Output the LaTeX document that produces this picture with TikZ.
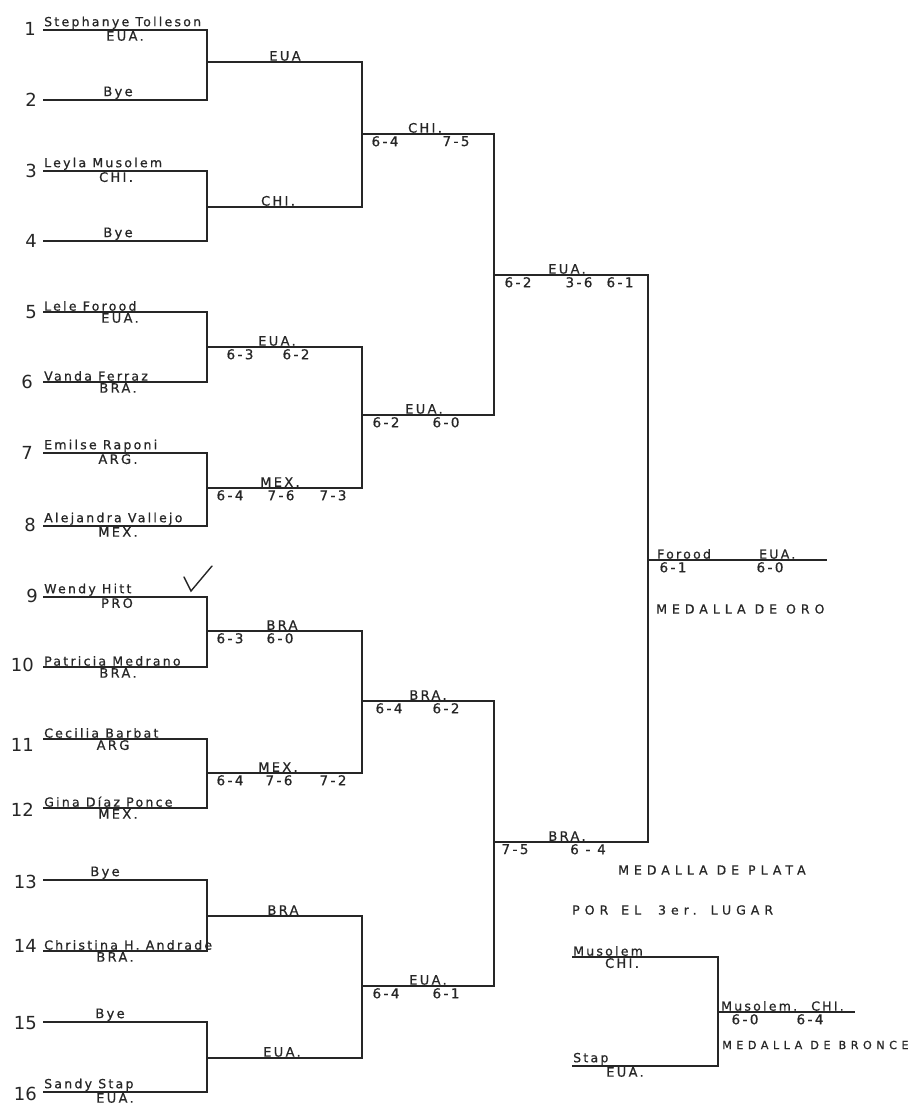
\documentclass[tikz,border=0pt]{standalone}
\usepackage{fontspec}
\setmainfont{DejaVu Sans}
\newfontfamily\handfont{DejaVu Sans}[LetterSpace=18,FakeBold=0.8]
\newfontfamily\medalfont{DejaVu Sans}[LetterSpace=40,FakeBold=0.8]
\usepackage{tikz}
\definecolor{DrawInk}{HTML}{262626}

\begin{document}
\begin{tikzpicture}[x=1pt,y=-1pt,
  bline/.style={DrawInk,line width=1.6pt},
  seed/.style={DrawInk,anchor=east,inner sep=0pt,font=\fontsize{18}{18}\selectfont},
  player/.style={DrawInk,anchor=south west,inner sep=1pt,font=\handfont\fontsize{12.5}{13}\selectfont},
  country/.style={DrawInk,anchor=north,inner sep=1pt,font=\handfont\fontsize{13}{13}\selectfont},
  winner/.style={DrawInk,anchor=south,inner sep=1pt,font=\handfont\fontsize{13}{13}\selectfont},
  score/.style={DrawInk,anchor=north,inner sep=2pt,font=\handfont\fontsize{13.5}{14}\selectfont},
  medal/.style={DrawInk,anchor=west,inner sep=0pt,font=\medalfont\fontsize{12.5}{13}\selectfont}]
\path[use as bounding box] (0,0) rectangle (913,1110);

% slots of the first round
\coordinate (p1) at (43,30);    \coordinate (p2) at (43,100);
\coordinate (p3) at (43,171);   \coordinate (p4) at (43,241);
\coordinate (p5) at (43,312);   \coordinate (p6) at (43,382);
\coordinate (p7) at (43,453);   \coordinate (p8) at (43,526);
\coordinate (p9) at (43,597);   \coordinate (p10) at (43,667);
\coordinate (p11) at (43,739);  \coordinate (p12) at (43,808);
\coordinate (p13) at (43,880);  \coordinate (p14) at (43,951);
\coordinate (p15) at (43,1022); \coordinate (p16) at (43,1092);
% winners of each round
\coordinate (m1) at (207,62);   \coordinate (m2) at (207,207);
\coordinate (m3) at (207,347);  \coordinate (m4) at (207,488);
\coordinate (m5) at (207,631);  \coordinate (m6) at (207,773);
\coordinate (m7) at (207,916);  \coordinate (m8) at (207,1058);
\coordinate (n1) at (362,134);  \coordinate (n2) at (362,415);
\coordinate (n3) at (362,701);  \coordinate (n4) at (362,986);
\coordinate (s1) at (494,275);  \coordinate (s2) at (494,842);
\coordinate (c) at (648,560);   \coordinate (ce) at (827,560);
% third place match
\coordinate (b1) at (572,957);  \coordinate (b2) at (572,1066);
\coordinate (bm) at (718,1012); \coordinate (be) at (855,1012);

% bracket lines
\draw[bline] (p1) -| (m1) |- (p2);
\draw[bline] (p3) -| (m2) |- (p4);
\draw[bline] (p5) -| (m3) |- (p6);
\draw[bline] (p7) -| (m4) |- (p8);
\draw[bline] (p9) -| (m5) |- (p10);
\draw[bline] (p11) -| (m6) |- (p12);
\draw[bline] (p13) -| (m7) |- (p14);
\draw[bline] (p15) -| (m8) |- (p16);
\draw[bline] (m1) -| (n1) |- (m2);
\draw[bline] (m3) -| (n2) |- (m4);
\draw[bline] (m5) -| (n3) |- (m6);
\draw[bline] (m7) -| (n4) |- (m8);
\draw[bline] (n1) -| (s1) |- (n2);
\draw[bline] (n3) -| (s2) |- (n4);
\draw[bline] (s1) -| (c) |- (s2);
\draw[bline] (c) -- (ce);
\draw[bline] (b1) -| (bm) |- (b2);
\draw[bline] (bm) -- (be);

% seeds
\node[seed] (sd1) at (36,29) {1};    \node[seed] (sd2) at (37,100) {2};
\node[seed] (sd3) at (37,171) {3};   \node[seed] (sd4) at (37,241) {4};
\node[seed] (sd5) at (37,312) {5};   \node[seed] (sd6) at (33,382) {6};
\node[seed] (sd7) at (33,453) {7};   \node[seed] (sd8) at (36,525) {8};
\node[seed] (sd9) at (38,596) {9};   \node[seed] (sd10) at (34,665) {10};
\node[seed] (sd11) at (34,745) {11}; \node[seed] (sd12) at (34,810) {12};
\node[seed] (sd13) at (37,882) {13}; \node[seed] (sd14) at (37,946) {14};
\node[seed] (sd15) at (37,1023) {15};\node[seed] (sd16) at (37,1094) {16};

% players
\node[player] (pl1) at (p1) {Stephanye Tolleson};
\node[country] (ct1) at (125,30) {EUA.};
\node[winner] (pl2) at (118,100) {Bye};
\node[player] (pl3) at (p3) {Leyla Musolem};
\node[country] (ct3) at (116,171) {CHI.};
\node[winner] (pl4) at (118,241) {Bye};
\node[player] (pl5) at (p5) {Lele Forood};
\node[country] (ct5) at (120,312) {EUA.};
\node[player] (pl6) at (p6) {Vanda Ferraz};
\node[country] (ct6) at (118,382) {BRA.};
\node[player] (pl7) at (p7) {Emilse Raponi};
\node[country] (ct7) at (118,453) {ARG.};
\node[player] (pl8) at (p8) {Alejandra Vallejo};
\node[country] (ct8) at (118,526) {MEX.};
\node[player] (pl9) at (p9) {Wendy Hitt};
\node[country] (ct9) at (117,597) {PRO};
\node[player] (pl10) at (p10) {Patricia Medrano};
\node[country] (ct10) at (118,667) {BRA.};
\node[player] (pl11) at (p11) {Cecilia Barbat};
\node[country] (ct11) at (113,739) {ARG};
\node[player] (pl12) at (p12) {Gina Díaz Ponce};
\node[country] (ct12) at (118,808) {MEX.};
\node[winner] (pl13) at (105,880) {Bye};
\node[player] (pl14) at (p14) {Christina H. Andrade};
\node[country] (ct14) at (115,951) {BRA.};
\node[winner] (pl15) at (110,1022) {Bye};
\node[player] (pl16) at (p16) {Sandy Stap};
\node[country] (ct16) at (115,1092) {EUA.};
\draw[DrawInk,line width=1.4pt,line cap=round] (184,577) -- (191,591) -- (212,566);

% second round
\node[winner] (wm1) at (285,62) {EUA};
\node[winner] (wm2) at (278,207) {CHI.};
\node[winner] (wm3) at (277,347) {EUA.};
\node[score] (sm3a) at (240,347) {6-3};  \node[score] (sm3b) at (296,347) {6-2};
\node[winner] (wm4) at (280,488) {MEX.};
\node[score] (sm4a) at (230,488) {6-4};  \node[score] (sm4b) at (281,488) {7-6};
\node[score] (sm4c) at (333,488) {7-3};
\node[winner] (wm5) at (282,631) {BRA};
\node[score] (sm5a) at (230,631) {6-3};  \node[score] (sm5b) at (280,631) {6-0};
\node[winner] (wm6) at (278,773) {MEX.};
\node[score] (sm6a) at (230,773) {6-4};  \node[score] (sm6b) at (279,773) {7-6};
\node[score] (sm6c) at (333,773) {7-2};
\node[winner] (wm7) at (283,916) {BRA};
\node[winner] (wm8) at (282,1058) {EUA.};

% third round
\node[winner] (wn1) at (425,134) {CHI.};
\node[score] (sn1a) at (385,134) {6-4};  \node[score] (sn1b) at (456,134) {7-5};
\node[winner] (wn2) at (424,415) {EUA.};
\node[score] (sn2a) at (386,415) {6-2};  \node[score] (sn2b) at (446,415) {6-0};
\node[winner] (wn3) at (428,701) {BRA.};
\node[score] (sn3a) at (389,701) {6-4};  \node[score] (sn3b) at (446,701) {6-2};
\node[winner] (wn4) at (428,986) {EUA.};
\node[score] (sn4a) at (386,986) {6-4};  \node[score] (sn4b) at (446,986) {6-1};

% semifinals
\node[winner] (ws1) at (567,275) {EUA.};
\node[score] (ss1a) at (518,275) {6-2};  \node[score] (ss1b) at (579,275) {3-6};
\node[score] (ss1c) at (620,275) {6-1};
\node[winner] (ws2) at (567,842) {BRA.};
\node[score] (ss2a) at (515,842) {7-5};  \node[score] (ss2b) at (588,842) {6 - 4};

% final and medals
\node[player] (champ) at (656,560) {Forood};
\node[player] (champct) at (758,560) {EUA.};
\node[score] (sfa) at (673,560) {6-1};   \node[score] (sfb) at (770,560) {6-0};
\node[medal] (gold) at (656,609) {MEDALLA DE ORO};
\node[medal] (silver) at (618,870) {MEDALLA DE PLATA};
\node[medal] (third) at (572,910) {POR\hspace{4pt} EL\hspace{8pt} 3er.\hspace{2pt} LUGAR};

% third place
\node[player] (bz1) at (b1) {Musolem};
\node[country] (bzct1) at (622,957) {CHI.};
\node[player] (bz2) at (b2) {Stap};
\node[country] (bzct2) at (625,1066) {EUA.};
\node[player] (bzw) at (720,1012) {Musolem.};
\node[player] (bzwct) at (810,1012) {CHI.};
\node[score] (sba) at (745,1012) {6-0};   \node[score] (sbb) at (810,1012) {6-4};
\node[medal,font=\medalfont\fontsize{11.2}{12}\selectfont] (bronze) at (722,1045) {MEDALLA DE BRONCE};
\end{tikzpicture}
\end{document}
